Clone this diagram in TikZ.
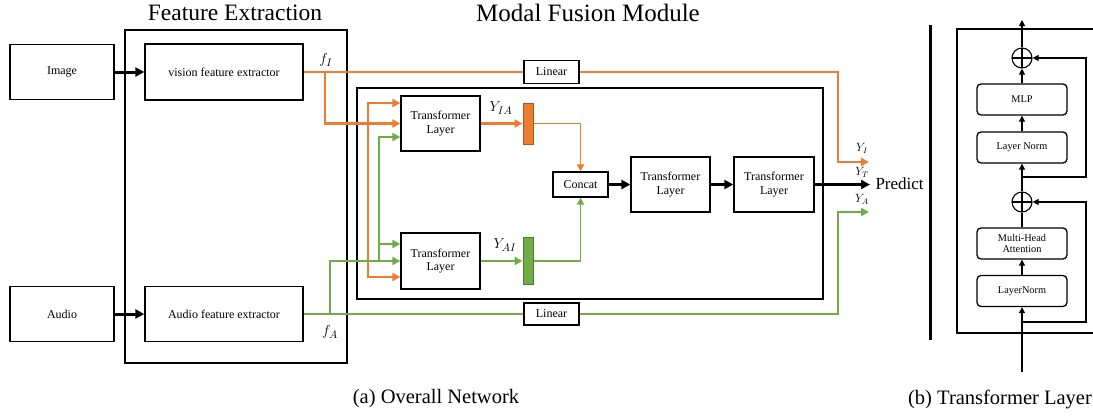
\documentclass[tikz,border=0pt]{standalone}
\usepackage{fontspec}
\setmainfont{Liberation Serif}
\usetikzlibrary{arrows.meta}
\definecolor{orng}{HTML}{ED7D31}
\definecolor{grn}{HTML}{70AD47}

\begin{document}
\begin{tikzpicture}[x=1pt, y=-1pt,
  box/.style={draw, line width=1.3pt, inner sep=0pt, align=center, font=\fontsize{12}{13.5}\selectfont},
  rbox/.style={box, rounded corners=4pt, minimum width=90pt, minimum height=31pt, font=\fontsize{10.3}{11.8}\selectfont},
  sum/.style={draw, circle, line width=1.1pt, minimum size=20pt, inner sep=0pt,
    path picture={\draw[line width=1.1pt] (path picture bounding box.north) -- (path picture bounding box.south)
      (path picture bounding box.west) -- (path picture bounding box.east);}},
  arr/.style={-{Triangle[length=8pt, width=8pt]}},
  blk/.style={line width=3pt, -{Triangle[length=9pt, width=9pt]}},
  sm/.style={line width=1.1pt, -{Triangle[length=6pt, width=6pt]}},
  oline/.style={orng, line width=2.6pt},
  gline/.style={grn, line width=2.6pt},
  big/.style={font=\fontsize{23.5}{26}\selectfont},
  captxt/.style={font=\fontsize{20.5}{23}\selectfont}]
  \useasboundingbox (0,0) rectangle (1093,416);

  \node[big] (tFE) at (235,13) {Feature Extraction};
  \node[big, font=\fontsize{25}{28}\selectfont] (tMF) at (588,13) {Modal Fusion Module};
  \draw[line width=1.3pt] (125,30) rectangle (347,363);
  \draw[line width=1.3pt] (357,88) rectangle (823,299);

  \node[box, minimum width=104pt, minimum height=55pt] (img) at (62,72) {Image};
  \node[box, minimum width=158pt, minimum height=56pt] (vis) at (224,72) {vision feature extractor};
  \node[box, minimum width=104pt, minimum height=55pt] (aud) at (62,314) {Audio};
  \node[box, minimum width=158pt, minimum height=55pt] (afe) at (224,314) {Audio feature extractor};
  \node[box, minimum width=55pt, minimum height=23pt] (linI) at (551.5,72) {Linear};
  \node[box, minimum width=55pt, minimum height=22pt] (linA) at (551.5,314) {Linear};
  \node[box, minimum width=79pt, minimum height=55pt] (tlI) at (440.5,123.5) {Transformer\\Layer};
  \node[box, minimum width=79pt, minimum height=56pt] (tlA) at (440.5,261) {Transformer\\Layer};
  \node[draw=orng!70!black, fill=orng, line width=1pt, minimum width=10pt, minimum height=41pt, inner sep=0pt] (bI) at (528,123.5) {};
  \node[draw=grn!70!black, fill=grn, line width=1pt, minimum width=10pt, minimum height=47pt, inner sep=0pt] (bA) at (528,261) {};
  \node[box, minimum width=55pt, minimum height=25pt] (cat) at (580.5,184.5) {Concat};
  \node[box, minimum width=79pt, minimum height=55pt] (tl1) at (670.5,184.5) {Transformer\\Layer};
  \node[box, minimum width=80pt, minimum height=55pt] (tl2) at (774,184.5) {Transformer\\Layer};
  \node[font=\fontsize{17}{20}\selectfont, anchor=west] (pred) at (872,184) {Predict};

  \node[font=\fontsize{15}{16}\selectfont] (lfI) at (326,60) {$f_I$};
  \node[font=\fontsize{15}{16}\selectfont] (lfA) at (330,332) {$f_A$};
  \node[font=\fontsize{15}{16}\selectfont] (lYIA) at (501,108) {$Y_{IA}$};
  \node[font=\fontsize{15}{16}\selectfont] (lYAI) at (505,245) {$Y_{AI}$};
  \node[font=\fontsize{12}{13}\selectfont] (lYI) at (862,148) {$Y_I$};
  \node[font=\fontsize{12}{13}\selectfont] (lYT) at (862,172) {$Y_T$};
  \node[font=\fontsize{12}{13}\selectfont] (lYA) at (862,199) {$Y_A$};

  \coordinate (fI) at (325,72);
  \coordinate (fA) at (330,314);
  \coordinate (jI) at (368,123.5);
  \coordinate (jA) at (379,261);
  \coordinate (kI) at (838,162);
  \coordinate (kA) at (838,212);
  \coordinate (yI) at (869,162);
  \coordinate (yT) at (870,184.5);
  \coordinate (yA) at (869,212);

  \draw[blk] (img) -- (vis);
  \draw[blk] (aud) -- (afe);
  \draw[oline] (vis) -- (linI);
  \draw[oline, arr] (linI) -| (kI) -- (yI);
  \draw[oline, arr] (fI) |- (tlI);
  \draw[oline, arr] (jI) |- ([yshift=20.5pt]tlI.west);
  \draw[oline, arr] (jI) |- ([yshift=-16pt]tlA.west);
  \draw[gline] (afe) -- (linA);
  \draw[gline, arr] (linA) -| (kA) -- (yA);
  \draw[gline, arr] (fA) |- (tlA);
  \draw[gline, arr] (jA) |- ([yshift=-13.5pt]tlI.west);
  \draw[gline, arr] (jA) |- ([yshift=17pt]tlA.west);
  \draw[oline, arr] (tlI) -- (bI);
  \draw[gline, arr] (tlA) -- (bA);
  \draw[orng, line width=1.8pt, -{Triangle[length=7pt, width=7pt]}] (bI) -| (cat);
  \draw[grn, line width=1.8pt, -{Triangle[length=7pt, width=7pt]}] (bA) -| (cat);
  \draw[blk] (cat) -- (tl1);
  \draw[blk] (tl1) -- (tl2);
  \draw[blk] (tl2) -- (yT);

  \draw[line width=3pt] (930,25) -- (930,340);
  \draw[line width=1.3pt] (1100,29) -| (957,333) -- (1100,333);
  \node[rbox] (ln1) at (1022,291) {LayerNorm};
  \node[rbox] (mha) at (1022,243.5) {Multi-Head\\Attention};
  \node[sum] (p1) at (1022,202) {};
  \node[rbox] (ln2) at (1022,147.5) {Layer Norm};
  \node[rbox] (mlp) at (1022,99.5) {MLP};
  \node[sum] (p2) at (1022,58) {};
  \coordinate (xin) at (1022,372);
  \coordinate (xout) at (1022,20);
  \coordinate (s1) at (1022,322);
  \coordinate (s2) at (1022,177);
  \coordinate (k1) at (1086,322);
  \coordinate (k2) at (1086,177);
  \draw[sm] (xin) -- (ln1);
  \draw[sm] (ln1) -- (mha);
  \draw[line width=1.1pt] (mha) -- (p1);
  \draw[sm] (p1) -- (ln2);
  \draw[sm] (ln2) -- (mlp);
  \draw[sm] (mlp) -- (p2);
  \draw[sm] (p2) -- (xout);
  \draw[sm] (s1) -- (k1) |- (p1);
  \draw[sm] (s2) -- (k2) |- (p2);

  \node[captxt] (capA) at (436,399) {(a) Overall Network};
  \node[captxt] (capB) at (1000,399) {(b) Transformer Layer};
\end{tikzpicture}
\end{document}
